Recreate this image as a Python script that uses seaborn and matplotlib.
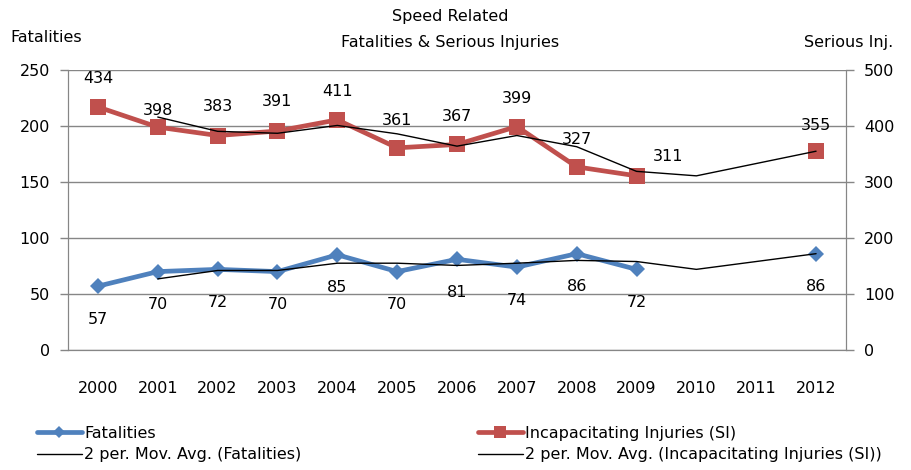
import pandas as pd
import numpy as np
import matplotlib.pyplot as plt
import seaborn as sns
from matplotlib.lines import Line2D

years = list(range(2000, 2013))
fatalities = [57, 70, 72, 70, 85, 70, 81, 74, 86, 72, None, None, 86]
serious = [434, 398, 383, 391, 411, 361, 367, 399, 327, 311, None, None, 355]
fat_ma = [None, 63.5, 71, 71, 77.5, 77.5, 75.5, 77.5, 80, 79, 72, None, 86]
ser_ma = [None, 416, 390.5, 387, 401, 386, 364, 383, 363, 319, 311, None, 355]

# label offsets in pixels (Excel placed these by hand-ish)
red_offsets = [(0, 28), (0, 17), (0, 29), (0, 30), (0, 28), (0, 27), (0, 28),
               (0, 28), (0, 27), (32, 19), None, None, (0, 26)]

df = pd.DataFrame({'year': years, 'fat': fatalities, 'ser': serious,
                   'fat_ma': fat_ma, 'ser_ma': ser_ma}).astype(float)
# segments so that gaps in the raw series are not bridged
df['fat_seg'] = df['fat'].isna().cumsum()
df['ser_seg'] = df['ser'].isna().cumsum()

sns.set_style('white')
plt.rcParams['font.family'] = ['DejaVu Sans']
plt.rcParams['text.color'] = 'black'
plt.rcParams['xtick.labelcolor'] = 'black'
plt.rcParams['ytick.labelcolor'] = 'black'
fs = 11.5

blue = '#4F81BD'
red = '#C0504D'
grey = '#868686'

fig = plt.figure(figsize=(9.11, 4.70), dpi=100)
ax = fig.add_axes([68 / 911, 1 - 350 / 470, (846 - 68) / 911, 280 / 470])
ax2 = ax.twinx()

fat = df.dropna(subset=['fat'])
sns.lineplot(data=fat, x='year', y='fat', units='fat_seg', estimator=None,
             color=blue, lw=3.4, marker='D', markersize=8.5, markeredgewidth=0,
             ax=ax, zorder=3)
fma = df.dropna(subset=['fat_ma'])
sns.lineplot(data=fma, x='year', y='fat_ma', color='black', lw=1, ax=ax, zorder=4)

ser = df.dropna(subset=['ser'])
sns.lineplot(data=ser, x='year', y='ser', units='ser_seg', estimator=None,
             color=red, lw=3.4, marker='s', markersize=11, markeredgewidth=0,
             ax=ax2, zorder=3)
sma = df.dropna(subset=['ser_ma'])
sns.lineplot(data=sma, x='year', y='ser_ma', color='black', lw=1, ax=ax2, zorder=4)

for x, v in zip(fat['year'], fat['fat']):
    ax.annotate(f'{int(v)}', (x, v), xytext=(0, -33), textcoords='offset pixels',
                ha='center', va='center', fontsize=fs, color='black')
for x, v, off in zip(years, serious, red_offsets):
    if v is None:
        continue
    ax2.annotate(f'{int(v)}', (x, v), xytext=off, textcoords='offset pixels',
                 ha='center', va='center', fontsize=fs, color='black')

ax.set_xlim(1999.5, 2012.5)
ax.set_ylim(0, 250)
ax2.set_ylim(0, 500)
ax.set_yticks(range(0, 251, 50))
ax2.set_yticks(range(0, 501, 100))
ax.set_xticks(years)
ax.set_xticks(np.arange(1999.5, 2013, 1), minor=True)
ax.set_xticklabels([str(y) for y in years])
ax.grid(axis='y', color=grey, lw=1)
ax.set_axisbelow(True)
ax.set_xlabel('')
ax.set_ylabel('')
ax2.set_ylabel('')

ax.tick_params(axis='x', which='major', length=0, pad=22, labelsize=fs)
ax.tick_params(axis='x', which='minor', length=6, color=grey, width=1, direction='out')
ax.tick_params(axis='y', length=6, color=grey, width=1, pad=7, labelsize=fs, left=True)
ax2.tick_params(axis='y', length=6, color=grey, width=1, pad=7, labelsize=fs, right=True)

for a in (ax, ax2):
    for s in a.spines.values():
        s.set_color(grey)
    a.spines['top'].set_visible(False)

fig.text(0.494, 1 - 17 / 470, 'Speed Related', ha='center', va='center', fontsize=fs)
fig.text(0.494, 1 - 43 / 470, 'Fatalities & Serious Injuries', ha='center', va='center', fontsize=fs)
fig.text(10 / 911, 1 - 38 / 470, 'Fatalities', ha='left', va='center', fontsize=fs)
fig.text(893 / 911, 1 - 43 / 470, 'Serious Inj.', ha='right', va='center', fontsize=fs)

h_fat = Line2D([], [], color=blue, lw=3.4, marker='D', markersize=6.5, markeredgewidth=0)
h_ser = Line2D([], [], color=red, lw=3.4, marker='s', markersize=8, markeredgewidth=0)
h_ma = Line2D([], [], color='black', lw=1)

leg_kw = dict(loc='center left', frameon=False, fontsize=fs, handlelength=2.8,
              handletextpad=0.15, labelspacing=0.4, borderaxespad=0, borderpad=0)
fig.legend([h_fat, h_ma], ['Fatalities', '2 per. Mov. Avg. (Fatalities)'],
           bbox_to_anchor=(37 / 911, 1 - 444 / 470), **leg_kw)
fig.legend([h_ser, h_ma], ['Incapacitating Injuries (SI)',
                           '2 per. Mov. Avg. (Incapacitating Injuries (SI))'],
           bbox_to_anchor=(478 / 911, 1 - 444 / 470), **leg_kw)

fig.savefig('out.png', dpi=100)
